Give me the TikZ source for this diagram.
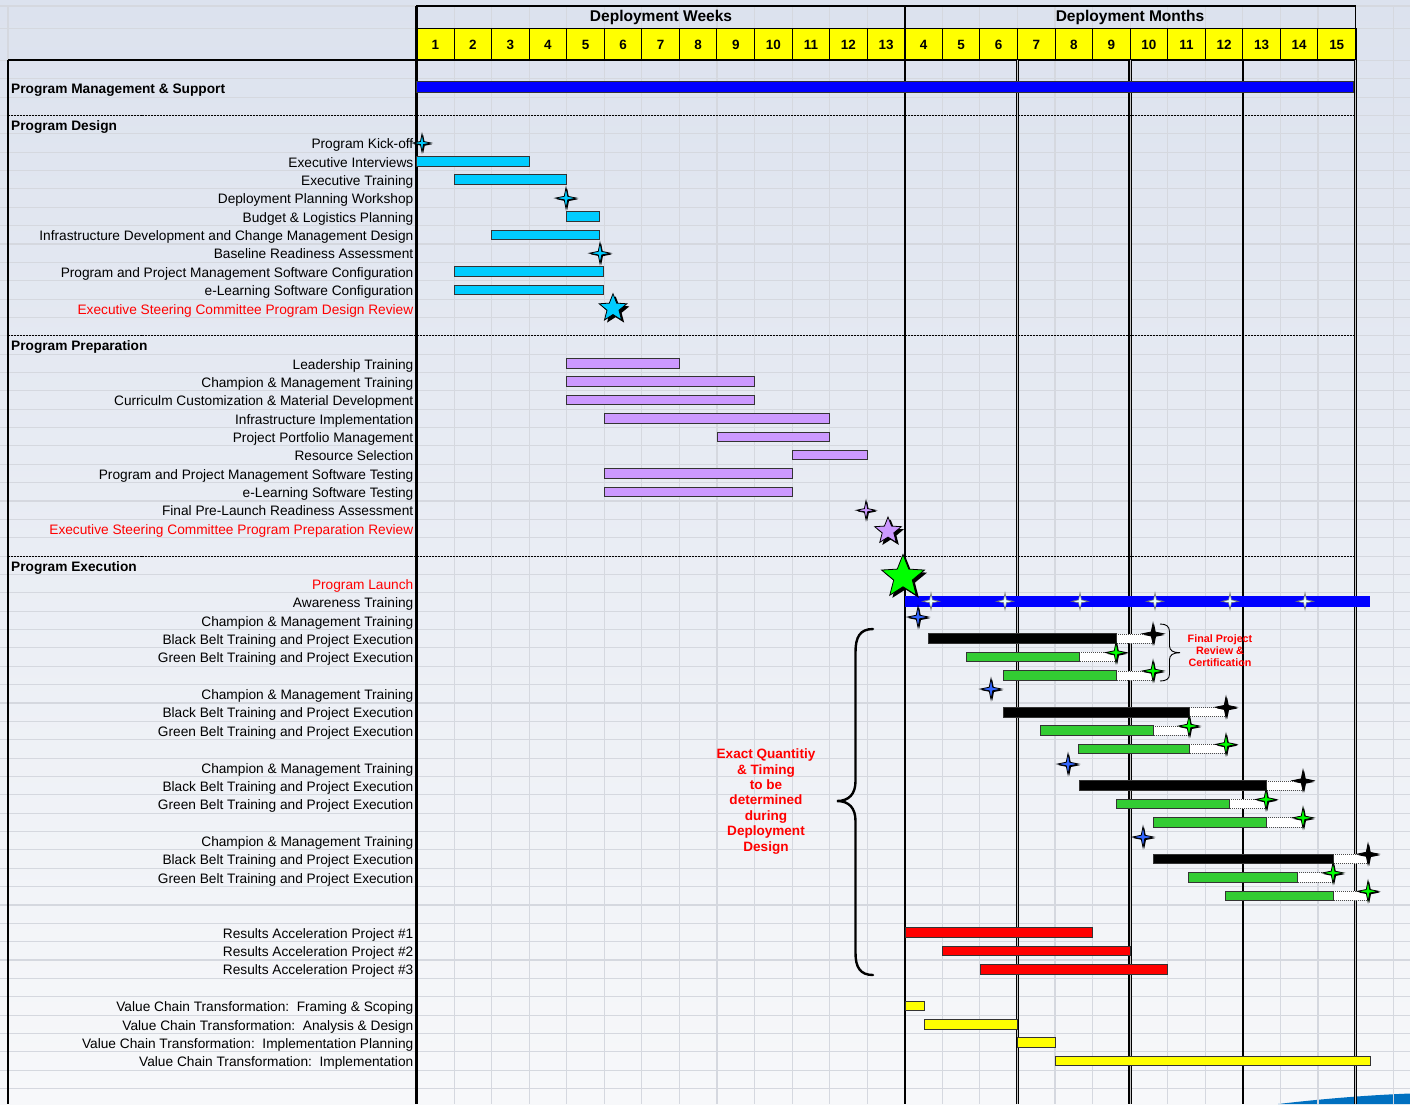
\documentclass[tikz,border=0pt]{standalone}
\usepackage{fontspec}
\setmainfont{Liberation Sans}
\usetikzlibrary{shapes.geometric,shadows}

\definecolor{bgtop}{HTML}{DCE2EE}
\definecolor{bgbot}{HTML}{F7F8FA}
\definecolor{gridc}{HTML}{D5D8DF}
\definecolor{cyanbar}{HTML}{00CCFF}
\definecolor{lilac}{HTML}{CC99FF}
\definecolor{beltgreen}{HTML}{33CC33}
\definecolor{lime}{HTML}{00FF00}
\definecolor{royal}{HTML}{0000FF}
\definecolor{starblue}{HTML}{3366FF}
\definecolor{hdryellow}{HTML}{FFFF00}
\definecolor{alertred}{HTML}{FF0000}
\definecolor{palecyan}{HTML}{E6FFFF}
\definecolor{swoosh}{HTML}{0070C0}

% vertical centre of table row #1
\def\R#1{143+18.36*(#1)}
% baseline-corrected text position of row #1
\def\T#1{143.9+18.36*(#1)}
% x position of the left edge of time column #1
\def\C#1{416.5+37.56*(#1)}

% task bar: [style]{x start}{x end}{row}
\newcommand\ganttbar[4][]{\draw[barbox,#1] ({#2},{\R{#4}-4.8}) rectangle ({#3},{\R{#4}+4.8});}
% dotted review extension: {x start}{x end}{row}
\newcommand\extbar[3]{\draw[extbox] ({#1},{\R{#3}-4.6}) rectangle ({#2},{\R{#3}+4.6});}

\begin{document}
\begin{tikzpicture}[x=1bp,y=-1bp,
  lbl/.style={anchor=east, inner sep=0pt, font=\fontsize{13.75}{16}\selectfont,
              text height=9.8pt, text depth=0pt},
  sect/.style={anchor=west, inner sep=0pt, font=\fontsize{13.75}{16}\selectfont\bfseries,
              text height=9.8pt, text depth=0pt},
  alert/.style={text=alertred},
  hdrtitle/.style={inner sep=0pt, font=\fontsize{15.6}{16}\selectfont\bfseries},
  hdrnum/.style={inner sep=0pt, font=\fontsize{13.5}{16}\selectfont\bfseries},
  gridline/.style={draw=gridc, line width=1.1pt},
  sepline/.style={line width=1pt, dash pattern=on 2pt off 1pt},
  barbox/.style={draw=black!80, line width=0.9pt},
  extbox/.style={fill=white, draw=black!70, line width=0.7pt, dash pattern=on 1pt off 1pt},
  star4/.style={star, star points=4, star point ratio=4.2, minimum size=21bp,
                inner sep=0pt, draw=black, line width=0.8pt,
                general shadow={fill=black, shadow xshift=1.2pt, shadow yshift=-1.2pt}},
  star5/.style={star, star points=5, star point ratio=2.3, inner sep=0pt,
                draw=black, line width=0.8pt,
                general shadow={fill=black, shadow xshift=2.6pt, shadow yshift=-2.6pt}},
  sparkle/.style={star, star points=4, star point ratio=4.2, minimum size=17bp,
                  inner sep=0pt, fill=palecyan, draw=black!55, line width=0.6pt},
  note/.style={inner sep=0pt, align=center, text=alertred},
  bigbrace/.style={line width=2.4pt, line cap=round},
  smallbrace/.style={line width=0.9pt}
]
\useasboundingbox (0,0) rectangle (1410,1104);

% ---------- backdrop and spreadsheet grid ----------
\shade[top color=bgtop, bottom color=bgbot] (0,0) rectangle (1410,1104);
\fill[swoosh] (1278,1104) .. controls (1330,1098) and (1372,1095) .. (1410,1093.5) -- (1410,1104) -- cycle;
\foreach \k in {0,...,26} \draw[gridline] ({\C{\k}},6) -- ({\C{\k}},1104);
\draw[gridline] (8,6) -- (8,1104);
\draw[gridline] (0,6) -- (1410,6);
\draw[gridline] (0,28.5) -- (1410,28.5);
\foreach \r in {-4,...,52} \draw[gridline] (0,{\R{\r}-9.18}) -- (1410,{\R{\r}-9.18});

% ---------- column headers ----------
\fill[hdryellow] (416.5,28.5) rectangle (1355.5,60);
\foreach \k in {1,...,24} \draw[line width=1pt] ({\C{\k}},28.5) -- ({\C{\k}},60);
\foreach \n [count=\i from 0] in {1,2,3,4,5,6,7,8,9,10,11,12,13,4,5,6,7,8,9,10,11,12,13,14,15}
  \node[hdrnum] (col\i) at ({\C{\i+0.5}},45) {\n};
\draw[line width=1.5pt] (416.5,6) rectangle (905,28.5);
\draw[line width=1.5pt] (905,6) rectangle (1355.5,28.5);
\draw[line width=2pt] (416.5,28.5) rectangle (1355.5,60);
\node[hdrtitle] (weeks) at (661,17.5) {Deployment Weeks};
\node[hdrtitle] (months) at (1130,17.5) {Deployment Months};

% ---------- table frame ----------
\draw[line width=2.4pt] (8,60) -- (1355.5,60);
\draw[line width=1.4pt] (8,60) -- (8,1104);
\draw[line width=2.4pt] (416.5,6) -- (416.5,1104);
\draw[line width=2.6pt] (905,6) -- (905,1104);
\draw[line width=2.4pt] (1242.8,60) -- (1242.8,1104);
\foreach \x in {1017.5,1130.1,1355.5}
  \draw[line width=1.3pt, double=gray!45, double distance=0.9pt] (\x,60) -- (\x,1104);
\foreach \r in {-1.5,10.5,22.5} \draw[sepline] (8,{\R{\r}}) -- (1355.5,{\R{\r}});

% ---------- program management ----------
\node[sect] (pms) at (11,{\T{-3}}) {Program Management \& Support};
\draw[barbox, fill=royal] (416.5,81) rectangle (1353.5,92.5);

% ---------- program design ----------
\node[sect] (pdes) at (11,{\T{-1}}) {Program Design};
\node[lbl] (t0) at (413.5,{\T{0}}) {Program Kick-off};
\node[lbl] (t1) at (413.5,{\T{1}}) {Executive Interviews};
\node[lbl] (t2) at (413.5,{\T{2}}) {Executive Training};
\node[lbl] (t3) at (413.5,{\T{3}}) {Deployment Planning Workshop};
\node[lbl] (t4) at (413.5,{\T{4}}) {Budget \& Logistics Planning};
\node[lbl] (t5) at (413.5,{\T{5}}) {Infrastructure Development and Change Management Design};
\node[lbl] (t6) at (413.5,{\T{6}}) {Baseline Readiness Assessment};
\node[lbl] (t7) at (413.5,{\T{7}}) {Program and Project Management Software Configuration};
\node[lbl] (t8) at (413.5,{\T{8}}) {e-Learning Software Configuration};
\node[lbl, alert] (t9) at (413.5,{\T{9}}) {Executive Steering Committee Program Design Review};

\ganttbar[fill=cyanbar]{416.5}{529.2}{1}
\ganttbar[fill=cyanbar]{454.1}{566.7}{2}
\ganttbar[fill=cyanbar]{566.7}{599.3}{4}
\ganttbar[fill=cyanbar]{491.6}{599.3}{5}
\ganttbar[fill=cyanbar]{454.1}{603.7}{7}
\ganttbar[fill=cyanbar]{454.1}{603.7}{8}
\node[star4, fill=cyanbar, minimum size=18bp] (m-kick) at (422,{\R{0}}) {};
\node[star4, fill=cyanbar] (m-plan) at (566,{\R{3}}) {};
\node[star4, fill=cyanbar] (m-base) at (600,{\R{6}}) {};
\node[star5, fill=cyanbar, minimum size=29bp] (m-esc1) at (613,{\R{9}}) {};

% ---------- program preparation ----------
\node[sect] (pprep) at (11,{\T{11}}) {Program Preparation};
\node[lbl] (t12) at (413.5,{\T{12}}) {Leadership Training};
\node[lbl] (t13) at (413.5,{\T{13}}) {Champion \& Management Training};
\node[lbl] (t14) at (413.5,{\T{14}}) {Curriculm Customization \& Material Development};
\node[lbl] (t15) at (413.5,{\T{15}}) {Infrastructure Implementation};
\node[lbl] (t16) at (413.5,{\T{16}}) {Project Portfolio Management};
\node[lbl] (t17) at (413.5,{\T{17}}) {Resource Selection};
\node[lbl] (t18) at (413.5,{\T{18}}) {Program and Project Management Software Testing};
\node[lbl] (t19) at (413.5,{\T{19}}) {e-Learning Software Testing};
\node[lbl] (t20) at (413.5,{\T{20}}) {Final Pre-Launch Readiness Assessment};
\node[lbl, alert] (t21) at (413.5,{\T{21}}) {Executive Steering Committee Program Preparation Review};

\ganttbar[fill=lilac]{\C{4}}{\C{7}}{12}
\ganttbar[fill=lilac]{\C{4}}{\C{9}}{13}
\ganttbar[fill=lilac]{\C{4}}{\C{9}}{14}
\ganttbar[fill=lilac]{\C{5}}{\C{11}}{15}
\ganttbar[fill=lilac]{\C{8}}{\C{11}}{16}
\ganttbar[fill=lilac]{\C{10}}{\C{12}}{17}
\ganttbar[fill=lilac]{\C{5}}{\C{10}}{18}
\ganttbar[fill=lilac]{\C{5}}{\C{10}}{19}
\node[star4, fill=lilac, minimum size=19bp] (m-ready) at (866,{\R{20}}) {};
\node[star5, fill=lilac, minimum size=28bp] (m-esc2) at (888,531) {};

% ---------- program execution ----------
\node[sect] (pexe) at (11,{\T{23}}) {Program Execution};
\node[lbl, alert] (t24) at (413.5,{\T{24}}) {Program Launch};
\node[lbl] (t25) at (413.5,{\T{25}}) {Awareness Training};
\node[lbl] (t26) at (413.5,{\T{26}}) {Champion \& Management Training};
\node[lbl] (t27) at (413.5,{\T{27}}) {Black Belt Training and Project Execution};
\node[lbl] (t28) at (413.5,{\T{28}}) {Green Belt Training and Project Execution};
\node[lbl] (t30) at (413.5,{\T{30}}) {Champion \& Management Training};
\node[lbl] (t31) at (413.5,{\T{31}}) {Black Belt Training and Project Execution};
\node[lbl] (t32) at (413.5,{\T{32}}) {Green Belt Training and Project Execution};
\node[lbl] (t34) at (413.5,{\T{34}}) {Champion \& Management Training};
\node[lbl] (t35) at (413.5,{\T{35}}) {Black Belt Training and Project Execution};
\node[lbl] (t36) at (413.5,{\T{36}}) {Green Belt Training and Project Execution};
\node[lbl] (t38) at (413.5,{\T{38}}) {Champion \& Management Training};
\node[lbl] (t39) at (413.5,{\T{39}}) {Black Belt Training and Project Execution};
\node[lbl] (t40) at (413.5,{\T{40}}) {Green Belt Training and Project Execution};
\node[lbl] (t43) at (413.5,{\T{43}}) {Results Acceleration Project \#1};
\node[lbl] (t44) at (413.5,{\T{44}}) {Results Acceleration Project \#2};
\node[lbl] (t45) at (413.5,{\T{45}}) {Results Acceleration Project \#3};
\node[lbl] (t47) at (413.5,{\T{47}}) {Value Chain Transformation:\ \ Framing \& Scoping};
\node[lbl] (t48) at (413.5,{\T{48}}) {Value Chain Transformation:\ \ Analysis \& Design};
\node[lbl] (t49) at (413.5,{\T{49}}) {Value Chain Transformation:\ \ Implementation Planning};
\node[lbl] (t50) at (413.5,{\T{50}}) {Value Chain Transformation:\ \ Implementation};

% awareness training bar with its monthly sessions
\fill[royal] (905,596) rectangle (1370,606.7);
\foreach \x [count=\i] in {931,1005,1080,1155,1230,1305}
  \node[sparkle] (aw\i) at (\x,601.3) {};

% launch milestone
\node[star5, fill=lime, minimum size=45bp] (m-launch) at (903,577) {};

% champion training milestones
\foreach \x/\y [count=\i] in {918/617,991/689,1068/764,1143/837}
  \node[star4, fill=starblue] (champ\i) at (\x,\y) {};

% belt waves: black belt, then two green belt cohorts, each with a review extension
\foreach \g/\r/\ba/\bb/\be/\ga/\gb/\ge/\ha/\hb/\he in {
    1/27/928/1116/1153/966/1079/1116/1003/1116/1153,
    2/31/1003/1189/1226/1040/1153/1189/1078/1189/1226,
    3/35/1079/1266/1303/1116/1229/1266/1153/1266/1303,
    4/39/1153/1333/1368/1188/1297/1333/1225/1333/1368} {
  \extbar{\bb}{\be}{\r}
  \ganttbar[fill=black]{\ba}{\bb}{\r}
  \node[star4, fill=black] (bb\g) at (\be,{\R{\r}-5}) {};
  \extbar{\gb}{\ge}{\r+1}
  \ganttbar[fill=beltgreen]{\ga}{\gb}{\r+1}
  \node[star4, fill=lime] (gb\g) at (\ge,{\R{\r+1}-4.5}) {};
  \extbar{\hb}{\he}{\r+2}
  \ganttbar[fill=beltgreen]{\ha}{\hb}{\r+2}
  \node[star4, fill=lime] (gc\g) at (\he,{\R{\r+2}-4.5}) {};
}

% review bracket and note
\draw[smallbrace] (1160,624) .. controls (1166,624) and (1169.5,626) .. (1169.5,632)
  -- (1169.5,646) .. controls (1169.5,650.5) and (1173,652.7) .. (1180,652.7)
  .. controls (1173,652.7) and (1169.5,655) .. (1169.5,659.5)
  -- (1169.5,674) .. controls (1169.5,679) and (1166,681) .. (1160,681);
\node[note, font=\fontsize{10.8}{12.4}\selectfont\bfseries] (review) at (1220,650.5)
  {Final Project\\Review \&\\Certification};

% results acceleration projects
\ganttbar[fill=alertred]{905}{1092}{43}
\ganttbar[fill=alertred]{942}{1130}{44}
\ganttbar[fill=alertred]{980}{1167}{45}

% value chain transformation
\ganttbar[fill=hdryellow]{905}{924}{47}
\ganttbar[fill=hdryellow]{924}{1017}{48}
\ganttbar[fill=hdryellow]{1017}{1055}{49}
\ganttbar[fill=hdryellow]{1055}{1370}{50}

% large bracket over the repeated waves and its note
\draw[bigbrace] (873,629) .. controls (860,629) and (855.5,637) .. (855.5,652)
  -- (855.5,781) .. controls (855.5,794) and (849,801) .. (837,801)
  .. controls (849,801) and (855.5,808) .. (855.5,821)
  -- (855.5,953) .. controls (855.5,967) and (860,975) .. (873,975);
\node[note, font=\fontsize{13.6}{15.5}\selectfont\bfseries] (tbd) at (766,801.5)
  {Exact Quantitiy\\\& Timing\\to be\\determined\\during\\Deployment\\Design};
\end{tikzpicture}
\end{document}
